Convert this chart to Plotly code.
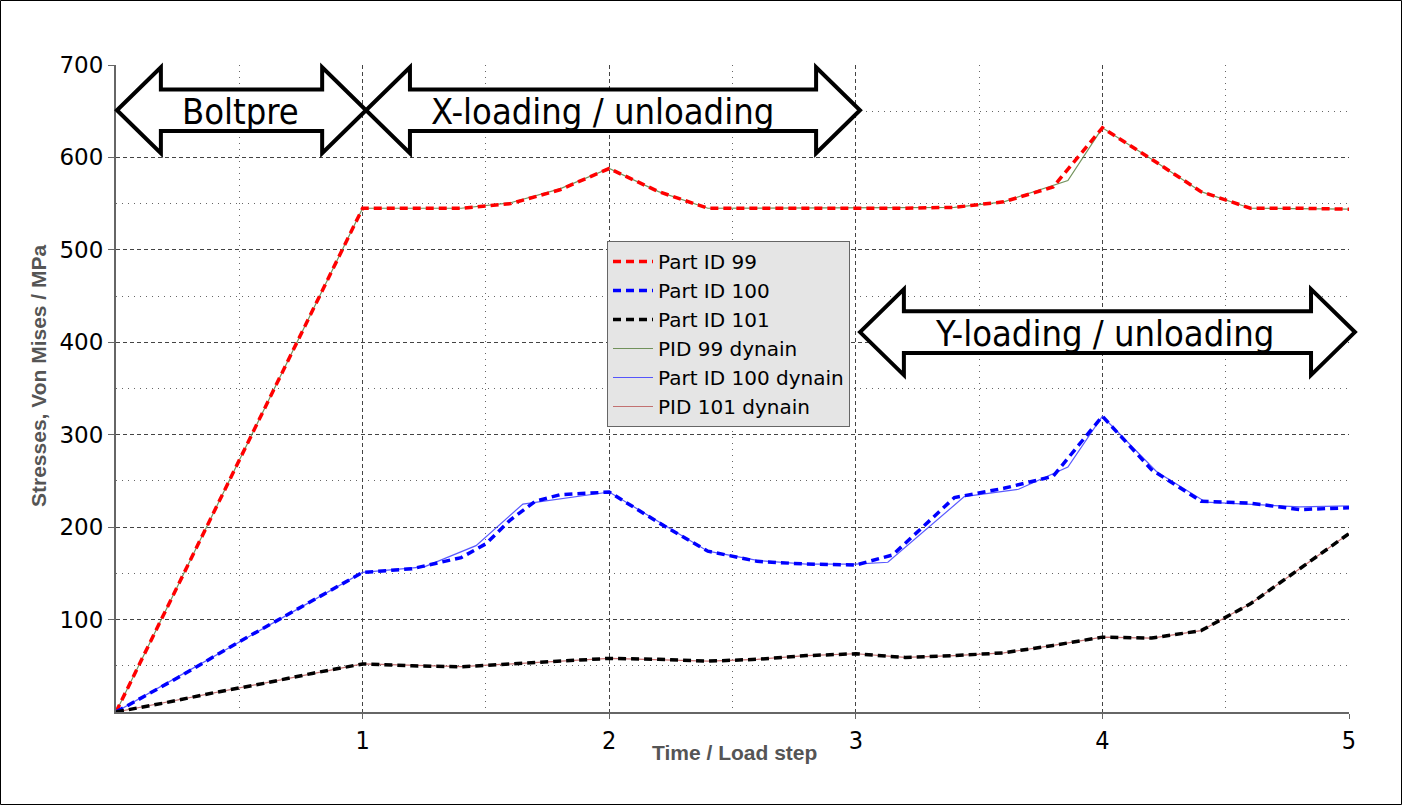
import plotly.graph_objects as go

# ---------------- data ----------------
x_p99 = [0, 0.2, 0.4, 0.6, 0.8, 1.0, 1.2, 1.4, 1.6, 1.8, 2.0, 2.2, 2.4, 2.6, 2.8, 3.0, 3.2, 3.4, 3.6, 3.8, 4.0, 4.2, 4.4, 4.6, 4.8, 5.0]
y_p99 = [0, 109, 218, 327, 436, 545, 545, 545, 550, 565, 588, 563, 545, 545, 545, 545, 545, 546, 552, 568, 632, 598, 563, 545, 545, 544]

x_p100 = [0, 0.25, 0.5, 0.75, 1.0, 1.2, 1.4, 1.5, 1.6, 1.7, 1.8, 2.0, 2.2, 2.4, 2.6, 2.8, 3.0, 3.15, 3.4, 3.6, 3.8, 4.0, 4.2, 4.4, 4.6, 4.8, 5.0]
y_p100 = [0, 37, 76, 114, 151, 155, 167, 182, 208, 228, 235, 238, 205, 174, 163, 160, 159, 170, 232, 242, 255, 320, 262, 228, 226, 219, 221]

x_p101 = [0, 0.2, 0.4, 0.6, 0.8, 1.0, 1.2, 1.4, 1.6, 1.8, 2.0, 2.2, 2.4, 2.6, 2.8, 3.0, 3.2, 3.4, 3.6, 3.8, 4.0, 4.2, 4.4, 4.6, 4.8, 5.0]
y_p101 = [0, 10, 21, 31, 42, 52, 50, 49, 52, 55, 58, 57, 55, 57, 61, 63, 59, 61, 64, 72, 81, 80, 88, 117, 155, 193]

x_d99 = [0, 1.0, 1.4, 1.6, 1.8, 2.0, 2.2, 2.4, 3.4, 3.6, 3.86, 4.0, 4.2, 4.4, 4.6, 5.0]
y_d99 = [0, 545, 545, 551, 566, 588, 563, 545, 546, 552, 575, 632, 598, 563, 545, 544]

x_d100 = [0, 0.25, 1.0, 1.25, 1.46, 1.65, 2.0, 2.4, 2.6, 2.8, 3.0, 3.13, 3.44, 3.66, 3.86, 4.0, 4.22, 4.42, 4.8, 5.0]
y_d100 = [0, 38, 151, 157, 180, 225, 238, 174, 164, 160, 160, 162, 233, 241, 265, 320, 260, 227, 222, 223]

x_d101 = [0, 1.0, 1.4, 1.6, 2.0, 2.4, 2.6, 2.8, 3.0, 3.2, 3.4, 3.6, 3.8, 4.0, 4.2, 4.4, 4.6, 4.8, 5.0]
y_d101 = [0, 52, 49, 52, 58, 55, 57, 61, 63, 59, 61, 64, 72, 81, 80, 88, 117, 155, 193]

x_tickvals = [1, 2, 3, 4, 5]
y_tickvals = [100, 200, 300, 400, 500, 600, 700]
x_minor = [0.5, 1.5, 2.5, 3.5, 4.5]
y_minor = [50, 150, 250, 350, 450, 550, 650]

# annotation arrows: (label, x_left_tip, x_right_tip, y_center, text x-offset px)
arrows = [
    ("Boltpre", 0.004, 1.014, 651, -1),
    ("X-loading / unloading", 1.014, 3.017, 651, -11),
    ("Y-loading / unloading", 3.017, 5.024, 411, -3),
]

# ---------------- figure ----------------
W, H = 1402, 805
ML, MR, MT, MB = 116, 53, 65, 93
PW = W - ML - MR
PH = H - MT - MB
XMAX, YMAX = 5.0, 700.0

fig = go.Figure()

thin = dict(width=1.2)
fig.add_trace(go.Scatter(x=x_d99, y=y_d99, mode="lines", name="PID 99 dynain",
                         line=dict(color="rgba(100,135,75,0.9)", **thin), legendrank=4))
fig.add_trace(go.Scatter(x=x_d100, y=y_d100, mode="lines", name="Part ID 100 dynain",
                         line=dict(color="rgba(60,60,255,0.85)", **thin), legendrank=5))
fig.add_trace(go.Scatter(x=x_d101, y=y_d101, mode="lines", name="PID 101 dynain",
                         line=dict(color="rgba(190,100,100,0.9)", **thin), legendrank=6))

dash = "8px,5px"
fig.add_trace(go.Scatter(x=x_p99, y=y_p99, mode="lines", name="Part ID 99",
                         line=dict(color="#ff0000", width=3.5, dash=dash), legendrank=1))
fig.add_trace(go.Scatter(x=x_p100, y=y_p100, mode="lines", name="Part ID 100",
                         line=dict(color="#0000ff", width=3.5, dash=dash), legendrank=2))
fig.add_trace(go.Scatter(x=x_p101, y=y_p101, mode="lines", name="Part ID 101",
                         line=dict(color="#000000", width=3.5, dash=dash), legendrank=3))

shapes = []
head_dx = 0.178
head_h = 46.5
shaft_h = 22.5
for label, x0, x1, yc, _ in arrows:
    pts = [
        (x0, yc), (x0 + head_dx, yc + head_h), (x0 + head_dx, yc + shaft_h),
        (x1 - head_dx, yc + shaft_h), (x1 - head_dx, yc + head_h), (x1, yc),
        (x1 - head_dx, yc - head_h), (x1 - head_dx, yc - shaft_h),
        (x0 + head_dx, yc - shaft_h), (x0 + head_dx, yc - head_h),
    ]
    path = "M " + " L ".join(f"{px / XMAX:.5f},{py / YMAX:.5f}" for px, py in pts) + " Z"
    shapes.append(dict(type="path", path=path, xref="paper", yref="paper",
                       fillcolor="white", line=dict(color="black", width=4), layer="above"))

# figure border
shapes.append(dict(type="rect", xref="paper", yref="paper",
                   x0=(0.5 - ML) / PW, x1=(W - 0.5 - ML) / PW,
                   y0=-(MB - 0.5) / PH, y1=(PH + MT - 0.5) / PH,
                   line=dict(color="black", width=1), fillcolor="rgba(0,0,0,0)"))

annotations = []
for label, x0, x1, yc, off in arrows:
    annotations.append(dict(text=label, x=(x0 + x1) / 2 / XMAX, y=yc / YMAX,
                            xref="paper", yref="paper", showarrow=False,
                            xanchor="center", yanchor="middle", xshift=off, yshift=-1,
                            font=dict(family="DejaVu Sans Condensed", size=36, color="black")))

annotations.append(dict(text="Stresses, Von Mises / MPa", textangle=-90,
                        x=(38 - ML) / PW, y=(PH + MT - 375) / PH, xref="paper", yref="paper",
                        showarrow=False, xanchor="center", yanchor="middle",
                        font=dict(family="Liberation Sans", size=21, color="#555555", weight="bold")))
annotations.append(dict(text="Time / Load step",
                        x=(734 - ML) / PW, y=(PH + MT - 752) / PH, xref="paper", yref="paper",
                        showarrow=False, xanchor="center", yanchor="middle",
                        font=dict(family="Liberation Sans", size=21, color="#555555", weight="bold")))

grid_major = dict(gridcolor="#444444", gridwidth=1, griddash="4px,3px")

fig.update_layout(
    width=W, height=H,
    margin=dict(l=ML, r=MR, t=MT, b=MB),
    paper_bgcolor="white", plot_bgcolor="white",
    showlegend=True,
    legend=dict(x=(607 - ML) / PW, y=(PH + MT - 241) / PH, xanchor="left", yanchor="top",
                bgcolor="#e5e5e5", bordercolor="#666666", borderwidth=1,
                font=dict(family="DejaVu Sans", size=20, color="black"),
                itemwidth=40, tracegroupgap=0),
    xaxis=dict(range=[0, XMAX], tickmode="array", tickvals=x_tickvals,
               ticktext=[str(v) for v in x_tickvals],
               showgrid=True, **grid_major, zeroline=False,
               showline=True, linecolor="#666666", linewidth=2,
               ticks="outside", ticklen=5, tickcolor="#666666",
               tickfont=dict(family="DejaVu Sans Condensed", size=25, color="black"),
               minor=dict(tickmode="array", tickvals=x_minor, showgrid=True,
                          gridcolor="#666666", gridwidth=1, griddash="1px,5px",
                          ticks="", ticklen=0)),
    yaxis=dict(range=[0, YMAX], tickmode="array", tickvals=y_tickvals,
               ticktext=[str(v) for v in y_tickvals],
               showgrid=True, **grid_major, zeroline=False,
               showline=True, linecolor="#666666", linewidth=2,
               ticks="outside", ticklen=6, tickcolor="#666666",
               tickfont=dict(family="DejaVu Sans", size=23, color="black"),
               minor=dict(tickmode="array", tickvals=y_minor, showgrid=True,
                          gridcolor="#666666", gridwidth=1, griddash="1px,5px",
                          ticks="", ticklen=0)),
    shapes=shapes,
    annotations=annotations,
)

fig.write_html("out.html")
